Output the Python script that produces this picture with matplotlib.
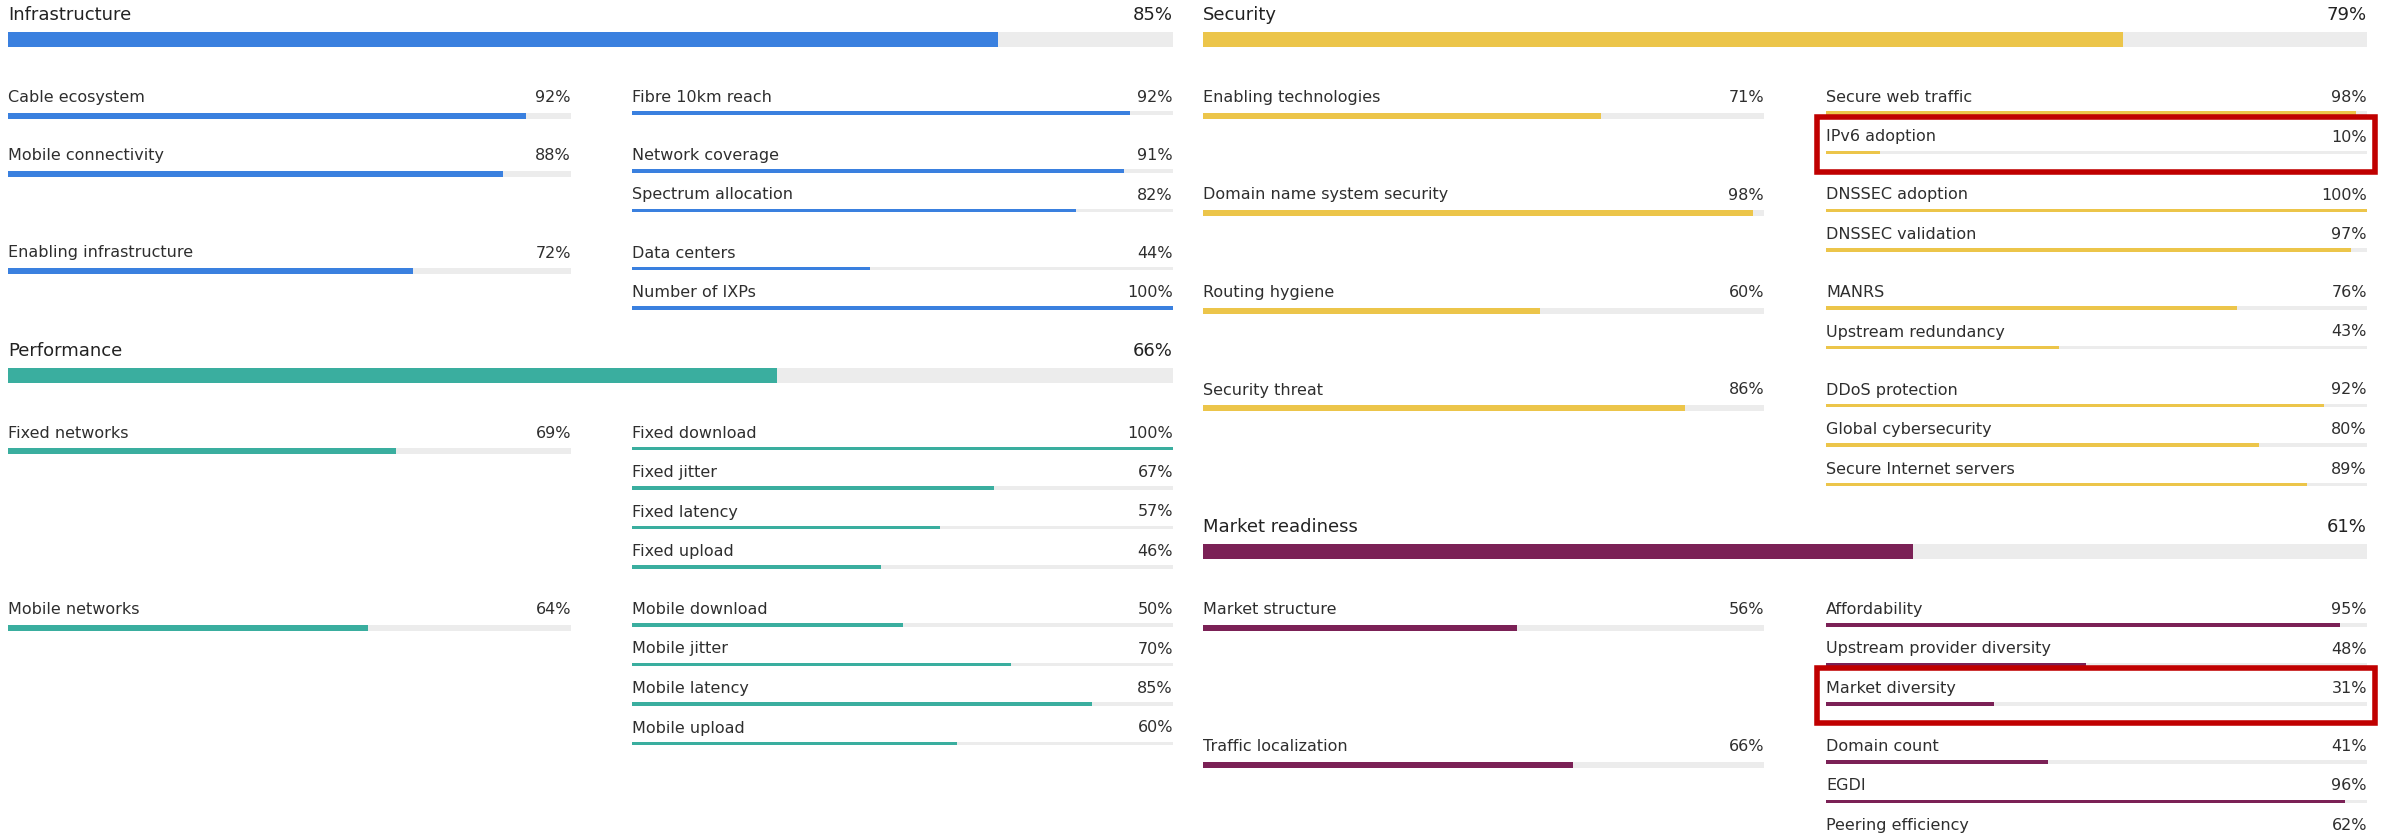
import matplotlib
matplotlib.use("Agg")
import matplotlib.pyplot as plt
from matplotlib.patches import Rectangle

# section scores
sections = ["Infrastructure", "Performance", "Security", "Market readiness"]
section_scores = [85, 66, 79, 61]
section_colors = ["#3a80df", "#3aae9f", "#ecc54a", "#7b2156"]

# pillars (left sub column) and their indicators (right sub column)
infra_pillars = ["Cable ecosystem", "Mobile connectivity", "Enabling infrastructure"]
infra_pillar_scores = [92, 88, 72]
infra_indicators = [["Fibre 10km reach"],
                    ["Network coverage", "Spectrum allocation"],
                    ["Data centers", "Number of IXPs"]]
infra_indicator_scores = [[92], [91, 82], [44, 100]]

perf_pillars = ["Fixed networks", "Mobile networks"]
perf_pillar_scores = [69, 64]
perf_indicators = [["Fixed download", "Fixed jitter", "Fixed latency", "Fixed upload"],
                   ["Mobile download", "Mobile jitter", "Mobile latency", "Mobile upload"]]
perf_indicator_scores = [[100, 67, 57, 46], [50, 70, 85, 60]]

sec_pillars = ["Enabling technologies", "Domain name system security",
               "Routing hygiene", "Security threat"]
sec_pillar_scores = [71, 98, 60, 86]
sec_indicators = [["Secure web traffic", "IPv6 adoption"],
                  ["DNSSEC adoption", "DNSSEC validation"],
                  ["MANRS", "Upstream redundancy"],
                  ["DDoS protection", "Global cybersecurity", "Secure Internet servers"]]
sec_indicator_scores = [[98, 10], [100, 97], [76, 43], [92, 80, 89]]

market_pillars = ["Market structure", "Traffic localization"]
market_pillar_scores = [56, 66]
market_indicators = [["Affordability", "Upstream provider diversity", "Market diversity"],
                     ["Domain count", "EGDI", "Peering efficiency"]]
market_indicator_scores = [[95, 48, 31], [41, 96, 62]]

highlighted = ["IPv6 adoption", "Market diversity"]

TRACK = "#ececec"
TEXT = "#2e2e2e"
W, H = 2395, 836

fig = plt.figure(figsize=(W / 100, H / 100), dpi=100)
ax = fig.add_axes([0, 0, 1, 1])
ax.set_xlim(0, W)
ax.set_ylim(H, 0)
ax.axis("off")

# column geometry: (start, end, sub col A end, sub col B start)
columns = [(8, 1173, 571, 632), (1203, 2367, 1764, 1826)]
pitch = 39.5
group_gap = 18.5


def bar(x0, x1, y, value, h, color):
    ax.barh(y, x1 - x0, left=x0, height=h, color=TRACK, linewidth=0)
    ax.barh(y, (x1 - x0) * value / 100, left=x0, height=h, color=color, linewidth=0)


def draw_section(col, y, name, score, color, pillars, pscores, inds, iscores):
    x0, x1, a1, b0 = col
    ax.text(x0, y - 19, name, fontsize=13, color="#222222", va="baseline")
    ax.text(x1, y - 19, f"{score}%", fontsize=13, color="#222222",
            va="baseline", ha="right")
    bar(x0, x1, y, score, 15, color)
    row = y + 73.5
    for p, ps, names, vals in zip(pillars, pscores, inds, iscores):
        ax.text(x0, row - 11, p, fontsize=11.5, color=TEXT, va="baseline")
        ax.text(a1, row - 11, f"{ps}%", fontsize=11.5, color=TEXT,
                va="baseline", ha="right")
        bar(x0, a1, row + 2.5, ps, 6, color)
        for i, (n, v) in enumerate(zip(names, vals)):
            ry = row + i * pitch
            ax.text(b0, ry - 11, n, fontsize=11.5, color=TEXT, va="baseline")
            ax.text(x1, ry - 11, f"{v}%", fontsize=11.5, color=TEXT,
                    va="baseline", ha="right")
            bar(b0, x1, ry, v, 3.5, color)
            if n in highlighted:
                ax.add_patch(Rectangle((b0 - 9, ry - 36), x1 - b0 + 17, 55,
                                       fill=False, edgecolor="#c00000",
                                       linewidth=4, zorder=5))
        last = row + (len(names) - 1) * pitch
        row = last + pitch + group_gap
    return last


left_last = draw_section(columns[0], 39.5, sections[0], section_scores[0], section_colors[0],
                         infra_pillars, infra_pillar_scores, infra_indicators, infra_indicator_scores)
draw_section(columns[0], left_last + 67, sections[1], section_scores[1], section_colors[1],
             perf_pillars, perf_pillar_scores, perf_indicators, perf_indicator_scores)

right_last = draw_section(columns[1], 39.5, sections[2], section_scores[2], section_colors[2],
                          sec_pillars, sec_pillar_scores, sec_indicators, sec_indicator_scores)
draw_section(columns[1], right_last + 67, sections[3], section_scores[3], section_colors[3],
             market_pillars, market_pillar_scores, market_indicators, market_indicator_scores)

fig.savefig("out.png", dpi=100, facecolor="white")
